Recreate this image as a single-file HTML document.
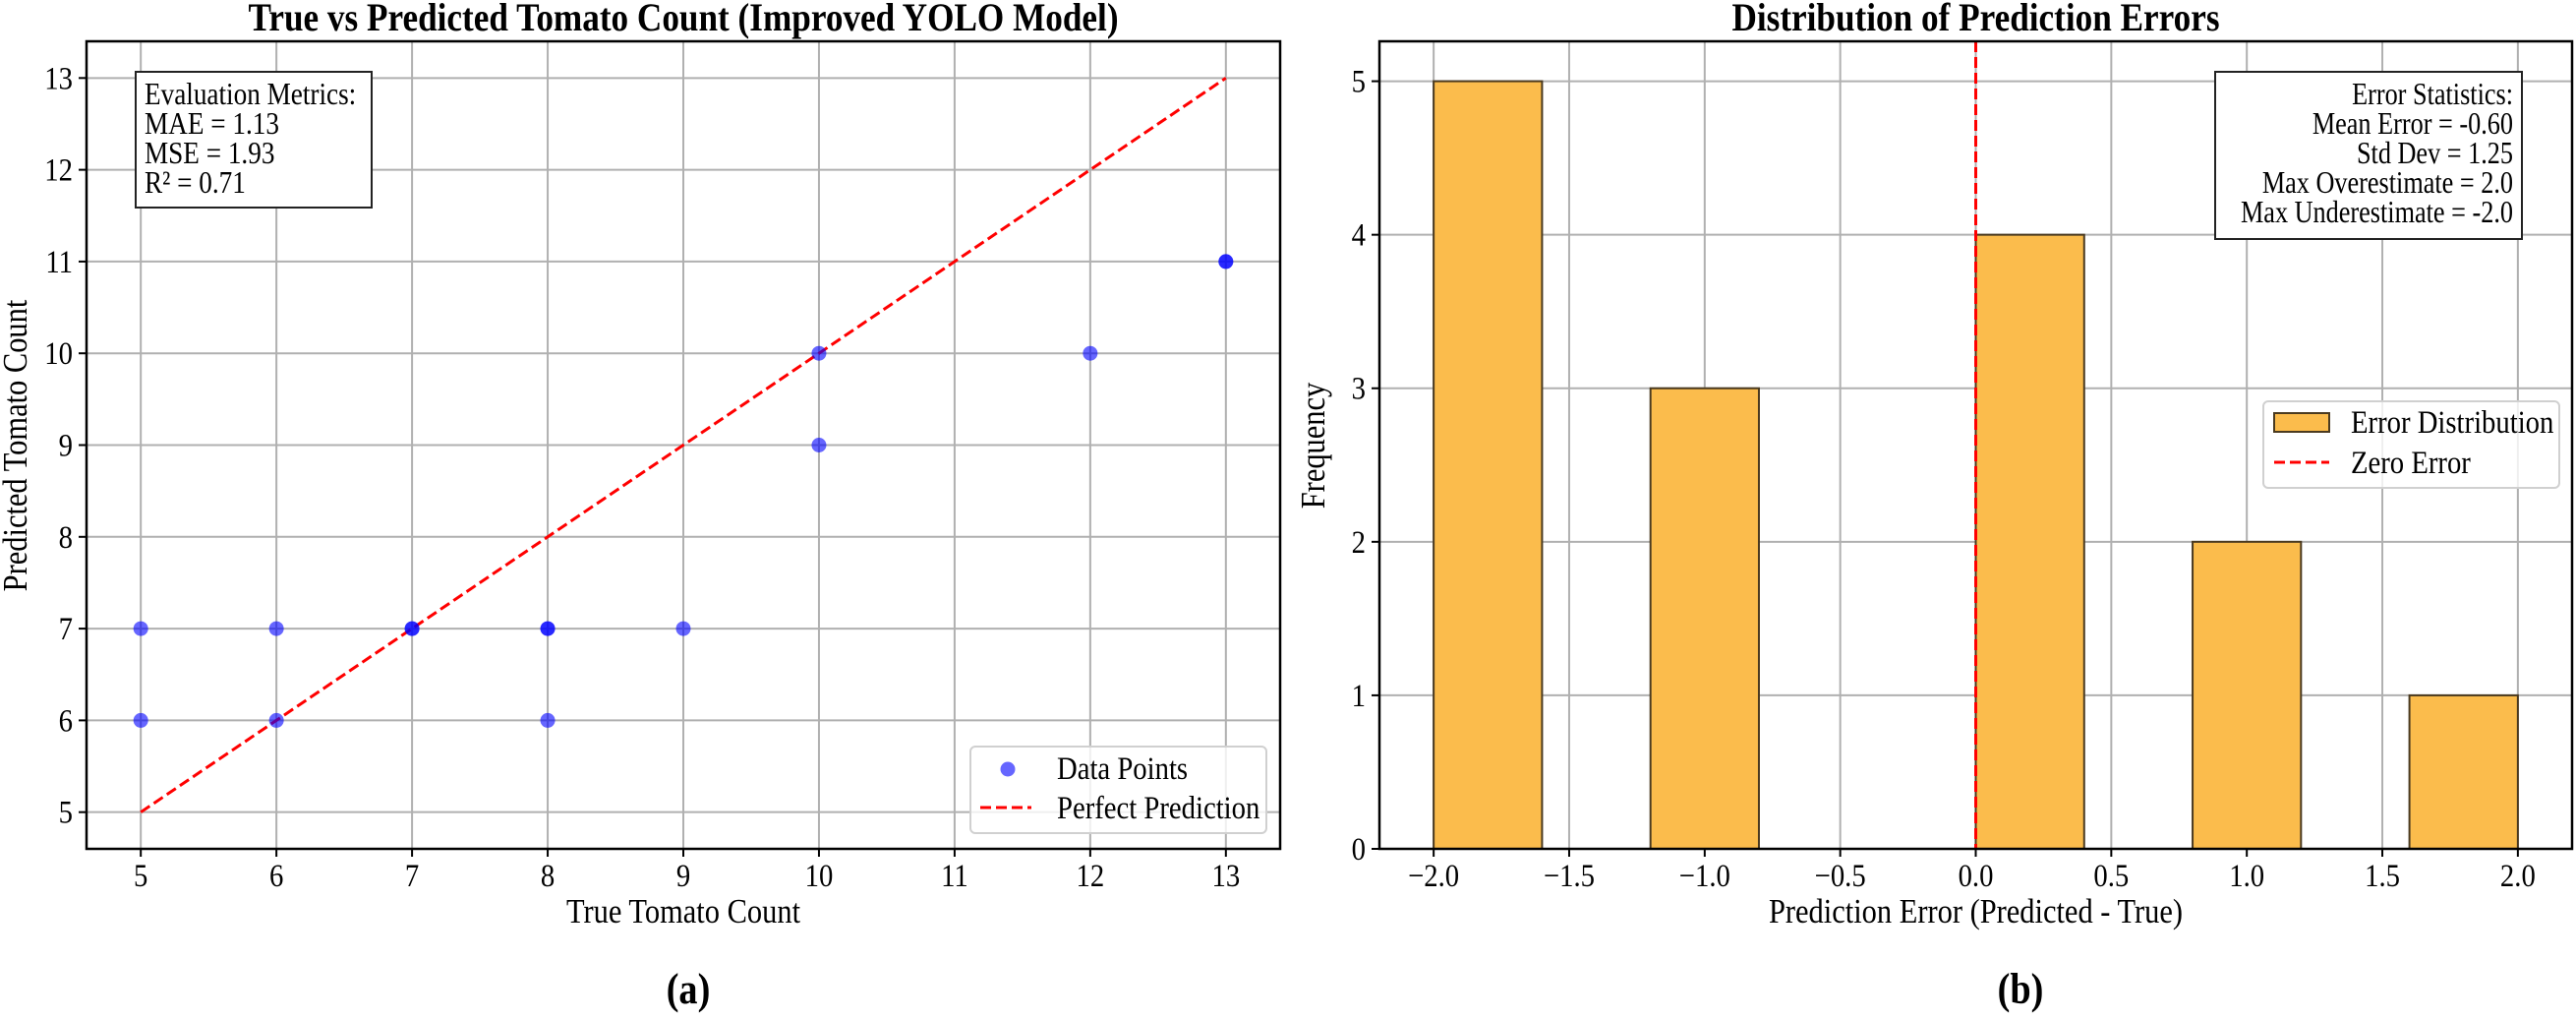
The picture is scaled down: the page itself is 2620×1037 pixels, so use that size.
<!DOCTYPE html>
<html><head><meta charset="utf-8"><style>
html,body{margin:0;padding:0;background:#fff;}
svg{display:block;font-family:"Liberation Serif",serif;}
</style></head><body>
<svg id="fig" width="2620" height="1037" viewBox="0 0 2620 1037" xmlns="http://www.w3.org/2000/svg"></svg>
<script>
// ---- Panel (a) data ----
const trueCounts = [5,5,6,6,7,7,8,8,8,9,10,10,12,13,13];
const predCounts = [7,6,7,6,7,7,7,7,6,7,10,9,10,11,11];
const xTicksA = [5,6,7,8,9,10,11,12,13];
const yTicksA = [5,6,7,8,9,10,11,12,13];
const perfectLine = [5,13];
// ---- Panel (b) data ----
const binEdges = [-2.0,-1.6,-1.2,-0.8,-0.4,0.0,0.4,0.8,1.2,1.6,2.0];
const binCounts = [5,0,3,0,0,4,0,2,0,1];
const xTicksB = [-2.0,-1.5,-1.0,-0.5,0.0,0.5,1.0,1.5,2.0];
const xTickLabelsB = ["\u22122.0","\u22121.5","\u22121.0","\u22120.5","0.0","0.5","1.0","1.5","2.0"];
const yTicksB = [0,1,2,3,4,5];

const NS="http://www.w3.org/2000/svg";
const svg=document.getElementById('fig');
function mk(tag,attrs,parent,text){const e=document.createElementNS(NS,tag);for(const k in attrs)e.setAttribute(k,attrs[k]);if(text!==undefined)e.textContent=text;(parent||svg).appendChild(e);return e;}
// condensed text helper
function tx(x,y,size,str,parent,anchor,bold,sx,rot){
  const a={x:0,y:0,'font-size':size,'text-anchor':anchor||'start',transform:'translate('+x+','+y+')'+(rot?' rotate(-90)':'')+' scale('+(sx||0.87)+',1)'};
  if(bold)a['font-weight']='bold';
  return mk('text',a,parent,str);
}

// ===== Panel A =====
const A={l:88,r:1302,t:42,b:863,x0:4.6,x1:13.4,y0:4.6,y1:13.4};
const ax=v=>A.l+(v-A.x0)/(A.x1-A.x0)*(A.r-A.l);
const ay=v=>A.b-(v-A.y0)/(A.y1-A.y0)*(A.b-A.t);
const gA=mk('g',{});


xTicksA.forEach(v=>{
  const l=mk('line',{x1:ax(v),x2:ax(v),y1:A.t,y2:A.b,stroke:'#b0b0b0','stroke-width':2},gA);
  
  mk('line',{x1:ax(v),x2:ax(v),y1:A.b,y2:A.b+8,stroke:'#000','stroke-width':2},gA);
  const t=tx(ax(v),A.b+38,33,String(v),gA,'middle');
  
});
yTicksA.forEach(v=>{
  const l=mk('line',{x1:A.l,x2:A.r,y1:ay(v),y2:ay(v),stroke:'#b0b0b0','stroke-width':2},gA);
  
  mk('line',{x1:A.l-8,x2:A.l,y1:ay(v),y2:ay(v),stroke:'#000','stroke-width':2},gA);
  const t=tx(A.l-14,ay(v)+11,33,String(v),gA,'end');
  
});
const pl=mk('line',{x1:ax(perfectLine[0]),y1:ay(perfectLine[0]),x2:ax(perfectLine[1]),y2:ay(perfectLine[1]),stroke:'#ff0000','stroke-width':3,'stroke-dasharray':'11,5'},gA);

trueCounts.forEach((v,i)=>{
  const c=mk('circle',{cx:ax(v),cy:ay(predCounts[i]),r:7.5,fill:'rgba(0,0,255,0.6)'},gA);
  
});
const fa=mk('rect',{x:A.l,y:A.t,width:A.r-A.l,height:A.b-A.t,fill:'none',stroke:'#000','stroke-width':2.5},gA);

const mb=mk('g',{},gA);

mk('rect',{x:138,y:73,width:240,height:138,fill:'#fff',stroke:'#222','stroke-width':2},mb);
["Evaluation Metrics:","MAE = 1.13","MSE = 1.93","R\u00b2 = 0.71"].forEach((s,i)=>tx(147,106+i*30,32,s,mb,'start',false,0.85));
const lgA=mk('g',{},gA);

mk('rect',{x:987,y:759,width:301,height:88,rx:5,fill:'rgba(255,255,255,0.8)',stroke:'#d0d0d0','stroke-width':2},lgA);
mk('circle',{cx:1025,cy:782,r:7.5,fill:'rgba(0,0,255,0.6)'},lgA);
tx(1075,792,33,'Data Points',lgA);
mk('line',{x1:997,x2:1049,y1:821,y2:821,stroke:'#ff0000','stroke-width':3,'stroke-dasharray':'11,5'},lgA);
tx(1075,832,33,'Perfect Prediction',lgA);
const tA=tx((A.l+A.r)/2,31,40,'True vs Predicted Tomato Count (Improved YOLO Model)',gA,'middle',true,0.88);

const xlA=tx(ax(9),938,35,'True Tomato Count',gA,'middle');

const ylA=tx(27,453,35,'Predicted Tomato Count',gA,'middle',false,0.87,true);

const capA=tx(700,1020,44,'(a)',svg,'middle',true);


// ===== Panel B =====
const B={l:1403,r:2616,t:42,b:863,x0:-2.2,x1:2.2,y0:0,y1:5.26};
const bx=v=>B.l+(v-B.x0)/(B.x1-B.x0)*(B.r-B.l);
const by=v=>B.b-(v-B.y0)/(B.y1-B.y0)*(B.b-B.t);
const gB=mk('g',{});


xTicksB.forEach((v,i)=>{
  const l=mk('line',{x1:bx(v),x2:bx(v),y1:B.t,y2:B.b,stroke:'#b0b0b0','stroke-width':2},gB);
  
  mk('line',{x1:bx(v),x2:bx(v),y1:B.b,y2:B.b+8,stroke:'#000','stroke-width':2},gB);
  const t=tx(bx(v),B.b+38,33,xTickLabelsB[i],gB,'middle');
  
});
yTicksB.forEach(v=>{
  const l=mk('line',{x1:B.l,x2:B.r,y1:by(v),y2:by(v),stroke:'#b0b0b0','stroke-width':2},gB);
  
  mk('line',{x1:B.l-8,x2:B.l,y1:by(v),y2:by(v),stroke:'#000','stroke-width':2},gB);
  const t=tx(B.l-14,by(v)+11,33,String(v),gB,'end');
  
});
binCounts.forEach((c,i)=>{
  if(c<=0)return;
  const r=mk('rect',{x:bx(binEdges[i]),y:by(c),width:bx(binEdges[i+1])-bx(binEdges[i]),height:by(0)-by(c),fill:'#fbbc4c',stroke:'#4a3a20','stroke-width':2},gB);
  
});
const zl=mk('line',{x1:bx(0),x2:bx(0),y1:B.t,y2:B.b,stroke:'#ff0000','stroke-width':3,'stroke-dasharray':'11,5'},gB);

const fb=mk('rect',{x:B.l,y:B.t,width:B.r-B.l,height:B.b-B.t,fill:'none',stroke:'#000','stroke-width':2.5},gB);

const sb=mk('g',{},gB);

mk('rect',{x:2253,y:73,width:312,height:170,fill:'#fff',stroke:'#222','stroke-width':2},sb);
["Error Statistics:","Mean Error = -0.60","Std Dev = 1.25","Max Overestimate = 2.0","Max Underestimate = -2.0"].forEach((s,i)=>tx(2556,106+i*30,32,s,sb,'end',false,0.82));
const lgB=mk('g',{},gB);

mk('rect',{x:2302,y:408,width:301,height:88,rx:5,fill:'rgba(255,255,255,0.8)',stroke:'#d0d0d0','stroke-width':2},lgB);
mk('rect',{x:2313,y:420,width:56,height:19,fill:'#fbbc4c',stroke:'#4a3a20','stroke-width':2},lgB);
tx(2391,440,33,'Error Distribution',lgB);
mk('line',{x1:2313,x2:2369,y1:470,y2:470,stroke:'#ff0000','stroke-width':3,'stroke-dasharray':'11,5'},lgB);
tx(2391,481,33,'Zero Error',lgB);
const tB=tx((B.l+B.r)/2,31,40,'Distribution of Prediction Errors',gB,'middle',true,0.88);

const xlB=tx(bx(0),938,35,'Prediction Error (Predicted - True)',gB,'middle');

const ylB=tx(1347,453,35,'Frequency',gB,'middle',false,0.87,true);

const capB=tx(2055,1020,44,'(b)',svg,'middle',true);

</script>
</body></html>
